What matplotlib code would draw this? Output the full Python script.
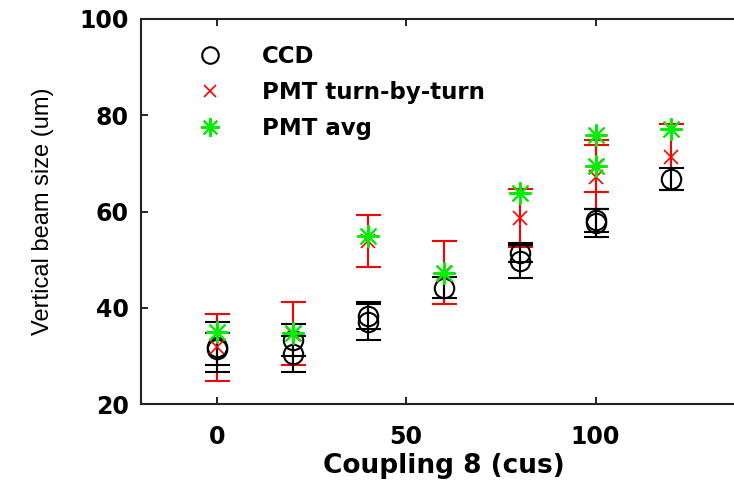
import matplotlib.pyplot as plt
import numpy as np

# coupling (cus) / vertical beam size (um)
ccd_x = [0, 0, 20, 20, 40, 40, 60, 80, 80, 100, 100, 120]
ccd_y = [31.8, 31.4, 33.3, 30.4, 38.3, 37.1, 44.2, 51.3, 49.8, 58.2, 57.6, 66.8]
ccd_err = [5.2, 3.3, 3.3, 3.7, 2.8, 3.7, 2.2, 1.7, 3.6, 2.4, 3.0, 2.3]

tbt_x = [0, 20, 40, 60, 80, 100, 100, 120]
tbt_y = [31.8, 34.6, 53.8, 47.3, 58.6, 67.2, 69.5, 71.3]
tbt_err = [7.0, 6.5, 5.4, 6.5, 6.0, 6.7, 5.4, 6.8]

avg_x = [0, 20, 40, 60, 80, 100, 100, 120]
avg_y = [35.0, 34.7, 54.9, 47.2, 63.8, 76.0, 69.5, 77.1]

xticks = [0, 50, 100]
yticks = [20, 40, 60, 80, 100]

fig = plt.figure(figsize=(7.34, 4.83), dpi=100)
ax = fig.add_axes([141 / 734, 1 - 404 / 483, 606 / 734, 385 / 483])

ax.errorbar(tbt_x, tbt_y, yerr=tbt_err, fmt='none', ecolor='red',
            elinewidth=1.5, capsize=9, capthick=1.5, zorder=2)
ax.errorbar(ccd_x, ccd_y, yerr=ccd_err, fmt='none', ecolor='black',
            elinewidth=1.5, capsize=9, capthick=1.5, zorder=3)

ax.plot(ccd_x, ccd_y, linestyle='none', marker='o', ms=14, mfc='none',
        mec='black', mew=1.5, label='CCD', zorder=4)
ax.plot(tbt_x, tbt_y, linestyle='none', marker='x', ms=10, color='red',
        mew=1.2, label='PMT turn-by-turn', zorder=5)
ax.plot(avg_x, avg_y, linestyle='none', marker=(8, 2, 0), ms=16,
        color='#00ee00', mew=1.5, label='PMT avg', zorder=6)

ax.set_xlim(-20, 140)
ax.set_ylim(20, 100)
ax.set_xticks(xticks)
ax.set_yticks(yticks)
ax.tick_params(direction='in', length=5, width=1.2, top=True, right=True,
               labelsize=17)
ax.tick_params(axis='x', pad=15)
ax.tick_params(axis='y', pad=9)
for lab in ax.get_xticklabels() + ax.get_yticklabels():
    lab.set_family('DejaVu Sans')
    lab.set_weight('bold')
for s in ax.spines.values():
    s.set_linewidth(1.5)
    s.set_color('#222222')

ax.set_xlabel('Coupling 8 (cus)', family='DejaVu Sans', weight='bold',
              fontsize=19, labelpad=3)
ax.set_ylabel('Vertical beam size (um)', family='Liberation Sans',
              fontsize=17, labelpad=18)

leg = ax.legend(loc='upper left', bbox_to_anchor=(0.042, 0.985), frameon=False,
                prop={'family': 'DejaVu Sans', 'weight': 'bold', 'size': 16.5},
                handlelength=2.0, handletextpad=1.27, labelspacing=0.55,
                markerscale=0.85)

fig.savefig('out.png', dpi=100)
